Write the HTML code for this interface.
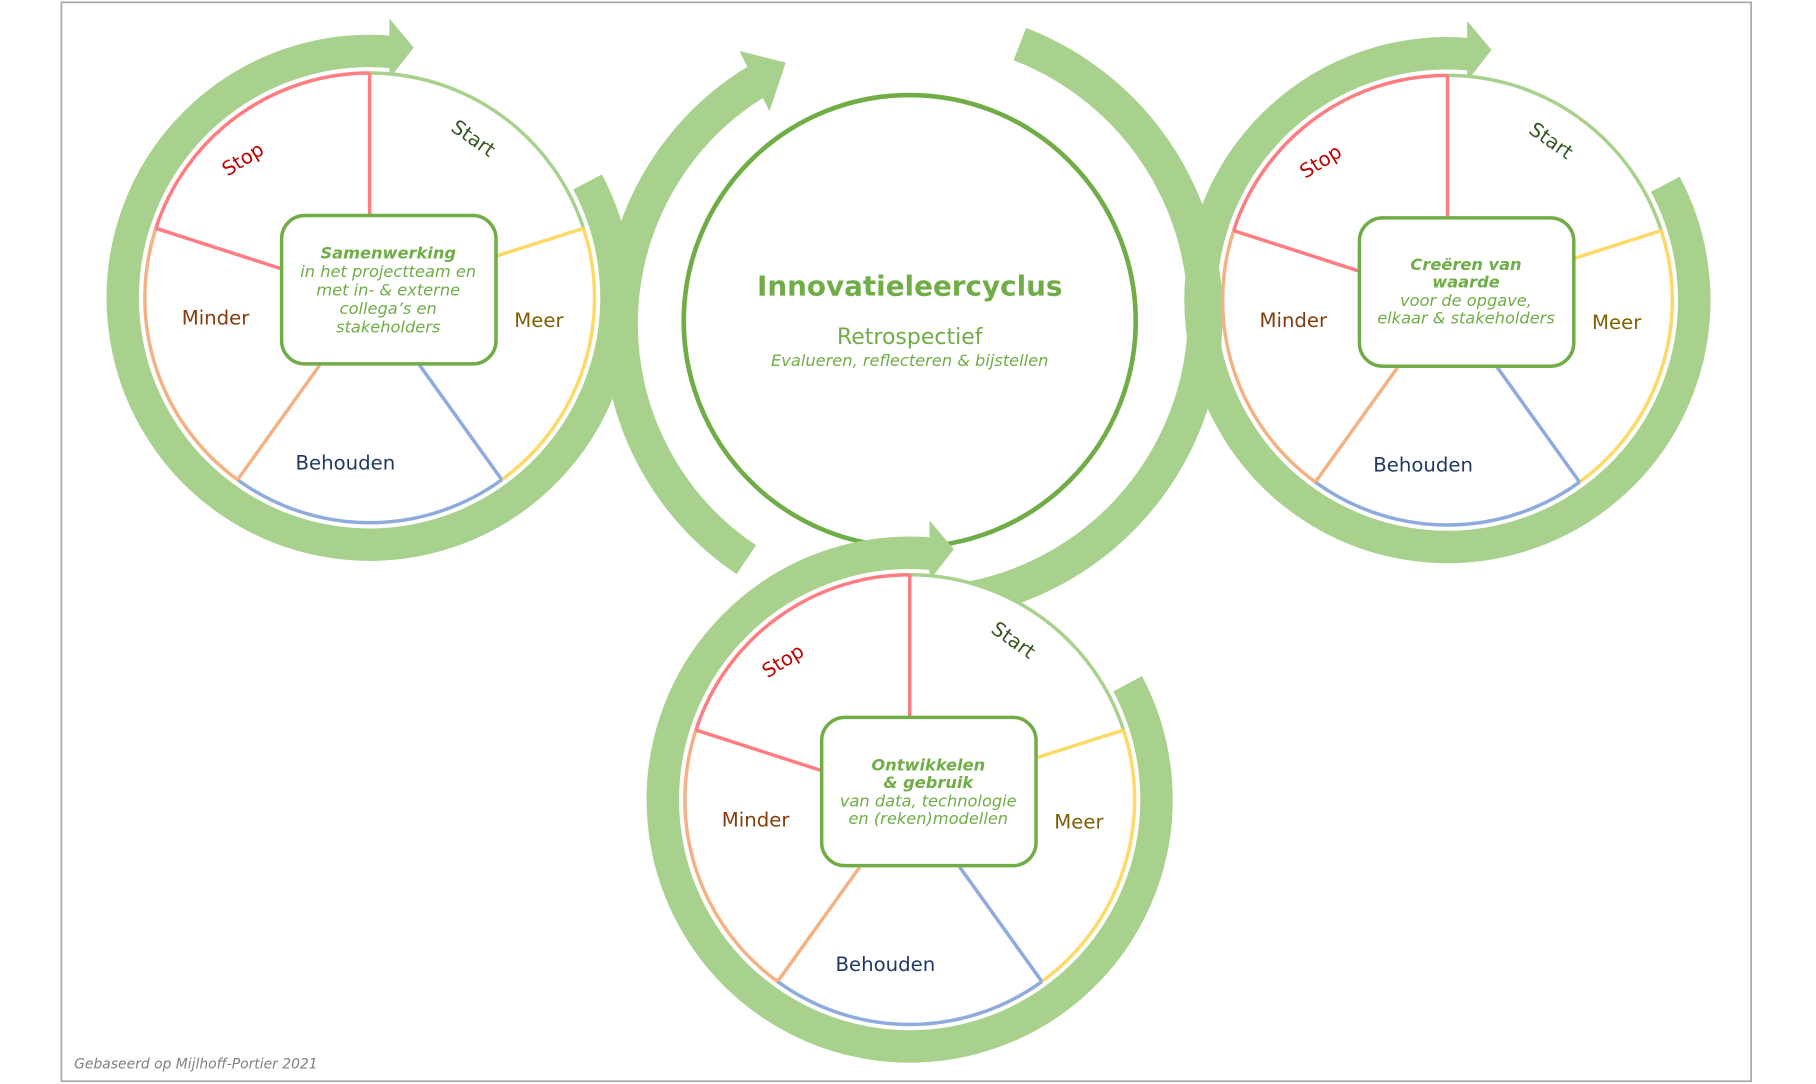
<!DOCTYPE html>
<html><head><meta charset="utf-8"><style>
html,body{margin:0;padding:0;background:#fff;}
svg{display:block;}
.hw{font-family:"Comic Sans MS","DejaVu Sans","Liberation Sans",cursive;font-size:17px;}
.bx{font-family:"DejaVu Sans","Liberation Sans",sans-serif;font-size:14px;fill:#70ad47;font-style:italic;text-anchor:middle;}
.bb{font-weight:bold;}
</style></head><body>
<svg width="1816" height="1084" viewBox="0 0 1567 935.4" preserveAspectRatio="none" xmlns="http://www.w3.org/2000/svg">
<defs>
<g id="cyc">
  <path d="M507,157 A213,213 0 1 1 337.6,44.8" fill="none" stroke="#a9d18e" stroke-width="28"/>
  <polygon points="336,16 357,41 336,68" fill="#a9d18e"/>
  <circle cx="319" cy="257" r="194" fill="#fff"/>
  <path d="M319,63 A194,194 0 0 1 503.5,197" fill="none" stroke="#a9d18e" stroke-width="3"/>
  <path d="M503.5,197 A194,194 0 0 1 433,414" fill="none" stroke="#ffd966" stroke-width="3"/>
  <path d="M433,414 A194,194 0 0 1 205,414" fill="none" stroke="#8faadc" stroke-width="3"/>
  <path d="M205,414 A194,194 0 0 1 134.5,197" fill="none" stroke="#f4b183" stroke-width="3"/>
  <path d="M134.5,197 A194,194 0 0 1 319,63" fill="none" stroke="#ff7c80" stroke-width="3"/>
  <line x1="319" y1="63" x2="319" y2="187" stroke="#ff7c80" stroke-width="3"/>
  <line x1="134.5" y1="197" x2="243" y2="232" stroke="#ff7c80" stroke-width="3"/>
  <line x1="503.5" y1="197" x2="428" y2="221" stroke="#ffd966" stroke-width="3"/>
  <line x1="433" y1="414" x2="362" y2="315" stroke="#8faadc" stroke-width="3"/>
  <line x1="205" y1="414" x2="276" y2="315" stroke="#f4b183" stroke-width="3"/>
  <rect x="243" y="186" width="185" height="128" rx="20" fill="#fff" stroke="#70ad47" stroke-width="3"/>
  <text class="hw" x="210" y="143" fill="#c00000" text-anchor="middle" transform="rotate(-32 210 138)">Stop</text>
  <text class="hw" x="408" y="125" fill="#375623" text-anchor="middle" transform="rotate(35 408 120)">Start</text>
  <text class="hw" x="186" y="280" fill="#843c0c" text-anchor="middle">Minder</text>
  <text class="hw" x="465" y="282" fill="#7f6000" text-anchor="middle">Meer</text>
  <text class="hw" x="298" y="405" fill="#1f3864" text-anchor="middle">Behouden</text>
</g>
</defs>
<rect x="53" y="2" width="1458" height="931" fill="none" stroke="#aaa" stroke-width="1.5"/>
<path d="M644,483 A245,245 0 0 1 655,69" fill="none" stroke="#a9d18e" stroke-width="30"/>
<polygon points="638,44 678,54 664,96" fill="#a9d18e"/>
<path d="M880,38 A250,250 0 0 1 836,517" fill="none" stroke="#a9d18e" stroke-width="30"/>
<circle cx="785" cy="277" r="195" fill="#fff" stroke="#70ad47" stroke-width="4"/>
<text x="785" y="255" text-anchor="middle" font-family="DejaVu Sans,Liberation Sans,sans-serif" font-weight="bold" font-size="24" fill="#70ad47">Innovatieleercyclus</text>
<text x="785" y="297" text-anchor="middle" font-family="DejaVu Sans,Liberation Sans,sans-serif" font-size="19" fill="#70ad47">Retrospectief</text>
<text x="785" y="316" text-anchor="middle" font-family="DejaVu Sans,Liberation Sans,sans-serif" font-style="italic" font-size="14" fill="#70ad47">Evalueren, reflecteren &amp; bijstellen</text>

<use href="#cyc"/>
<text class="bx bb" x="335" y="223">Samenwerking</text>
<text class="bx" x="335" y="239">in het projectteam en</text>
<text class="bx" x="335" y="255">met in- &amp; externe</text>
<text class="bx" x="335" y="271">collega’s en</text>
<text class="bx" x="335" y="287">stakeholders</text>

<use href="#cyc" transform="translate(930,2)"/>
<g transform="translate(930,2)">
<text class="bx bb" x="335" y="231">Creëren van</text>
<text class="bx bb" x="335" y="246">waarde</text>
<text class="bx" x="335" y="262">voor de opgave,</text>
<text class="bx" x="335" y="277">elkaar &amp; stakeholders</text>
</g>

<use href="#cyc" transform="translate(466,433)"/>
<g transform="translate(466,433)">
<text class="bx bb" x="335" y="232">Ontwikkelen</text>
<text class="bx bb" x="335" y="247">&amp; gebruik</text>
<text class="bx" x="335" y="263">van data, technologie</text>
<text class="bx" x="335" y="278">en (reken)modellen</text>
</g>

<text x="64" y="922" font-family="DejaVu Sans,Liberation Sans,sans-serif" font-style="italic" font-size="12" fill="#7f7f7f">Gebaseerd op Mijlhoff-Portier 2021</text>
</svg>
</body></html>
